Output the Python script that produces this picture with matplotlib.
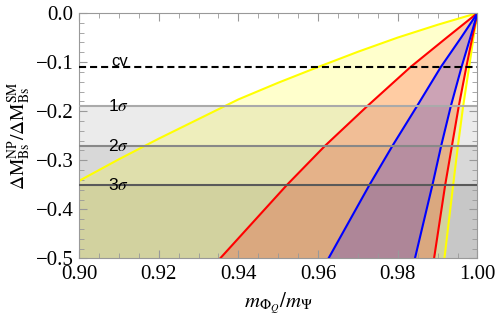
import matplotlib
matplotlib.use("Agg")
import matplotlib.pyplot as plt
from matplotlib.ticker import MultipleLocator, FuncFormatter

plt.rcParams['mathtext.fontset'] = 'stix'

# ---- data ----
# yellow upper-left boundary (x -> y)
yellow_left_x = [0.90, 0.91, 0.92, 0.93, 0.94, 0.95, 0.96, 0.97, 0.98, 0.99, 1.00]
yellow_left_y = [-0.342, -0.298, -0.256, -0.216, -0.176, -0.142, -0.110, -0.079, -0.050, -0.024, 0.0]

# remaining boundaries sampled at common y levels (y -> x)
levels_y = [-0.5, -0.35, -0.27, -0.19, -0.11, -0.05, 0.0]
red_left_x = [0.9354, 0.9522, 0.9618, 0.9723, 0.9832, 0.9923, 1.0]
blue_left_x = [0.9626, 0.9729, 0.9787, 0.9848, 0.9908, 0.9959, 1.0]
blue_right_x = [0.9843, 0.9887, 0.9909, 0.9933, 0.9960, 0.9982, 1.0]
red_right_x = [0.9891, 0.9919, 0.9936, 0.9953, 0.9972, 0.9987, 1.0]
yellow_right_x = [0.9917, 0.9939, 0.9951, 0.9964, 0.9979, 0.9990, 1.0]

# horizontal reference lines
hline_names = ['cv', '1$\\sigma$', '2$\\sigma$', '3$\\sigma$']
hline_vals = [-0.11, -0.19, -0.27, -0.35]

fig = plt.figure(figsize=(4.98, 3.28), dpi=100)
ax = fig.add_axes([0.1586, 0.2119, 0.8002, 0.7485])
ax.set_xlim(0.90, 1.00)
ax.set_ylim(-0.5, 0.0)

# gray sigma bands
for v in hline_vals[1:]:
    ax.axhspan(-0.5, v, color='black', alpha=0.08, lw=0, zorder=0)

# yellow region
xs = [0.90] + yellow_left_x + list(reversed(yellow_right_x))
ys = [-0.5] + yellow_left_y + list(reversed(levels_y))
ax.fill(xs, ys, color=(1, 1, 0), alpha=0.2, lw=0, zorder=1)
# red region
xs = red_left_x + list(reversed(red_right_x))
ys = levels_y + list(reversed(levels_y))
ax.fill(xs, ys, color=(1, 0, 0), alpha=0.2, lw=0, zorder=1)
# blue region
xs = blue_left_x + list(reversed(blue_right_x))
ax.fill(xs, ys, color=(0, 0, 1), alpha=0.2, lw=0, zorder=1)

lw = 1.5
ax.plot(yellow_left_x, yellow_left_y, color='#ffff00', lw=lw, zorder=2)
ax.plot(yellow_right_x, levels_y, color='#ffff00', lw=lw, zorder=2)
ax.plot(red_left_x, levels_y, color='#ff0000', lw=lw, zorder=2)
ax.plot(red_right_x, levels_y, color='#ff0000', lw=lw, zorder=2)
ax.plot(blue_left_x, levels_y, color='#0000ff', lw=lw, zorder=2)
ax.plot(blue_right_x, levels_y, color='#0000ff', lw=lw, zorder=2)

# horizontal lines
ax.axhline(hline_vals[0], color='black', lw=1.5, ls=(0, (3.4, 1.9)), zorder=3)
gray_cols = ['#aaaaaa', '#888888', '#5a5a5a']
for v, c in zip(hline_vals[1:], gray_cols):
    ax.axhline(v, color=c, lw=1.5, zorder=3)

# labels
lab_font = ['Liberation Sans', 'DejaVu Sans']
ax.text(0.9102, hline_vals[0] + 0.012, hline_names[0], ha='center', va='center',
        fontsize=12, family=lab_font, zorder=4)
for name, v in zip(hline_names[1:], hline_vals[1:]):
    ax.text(0.9098, v, name, ha='center', va='center', fontsize=12.5,
            family=lab_font, zorder=4)

# ticks
ax.xaxis.set_major_locator(MultipleLocator(0.02))
ax.xaxis.set_minor_locator(MultipleLocator(0.005))
ax.yaxis.set_major_locator(MultipleLocator(0.1))
ax.yaxis.set_minor_locator(MultipleLocator(0.02))
ax.xaxis.set_major_formatter(FuncFormatter(lambda v, p: f'{v:.2f}'.replace('-', '\u2212')))
ax.yaxis.set_major_formatter(FuncFormatter(
    lambda v, p: ('0.0' if abs(v) < 1e-9 else f'{v:.1f}'.replace('-', '\u2212'))))
ax.tick_params(which='both', direction='in', top=True, right=True, color='#999999')
ax.tick_params(which='major', length=6, width=0.8, labelsize=15)
ax.tick_params(axis='x', which='major', pad=5)
ax.tick_params(axis='y', which='major', pad=4)
ax.tick_params(which='minor', length=3.5, width=0.6)
for lab in ax.get_xticklabels() + ax.get_yticklabels():
    lab.set_family('Liberation Serif')
for s in ax.spines.values():
    s.set_color('#999999')
    s.set_linewidth(0.8)

ax.set_xlabel(r'$m_{\Phi_Q}/m_{\Psi}$', fontsize=15, labelpad=4)
ax.set_ylabel(r'$\Delta\mathrm{M}_{\mathrm{Bs}}^{\mathrm{NP}}/\Delta\mathrm{M}_{\mathrm{Bs}}^{\mathrm{SM}}$',
              fontsize=14, labelpad=2)

fig.savefig('out.png', dpi=100)
